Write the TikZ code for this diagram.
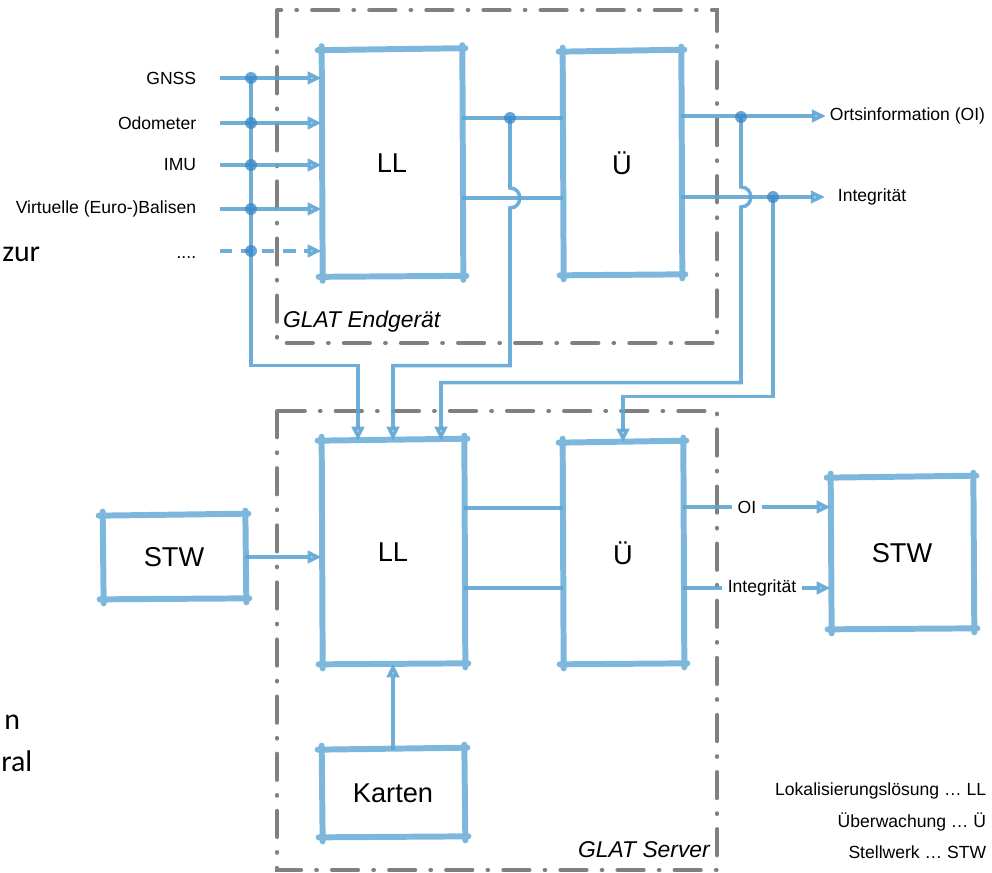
\documentclass[tikz,border=0pt]{standalone}
\usepackage{fontspec}
\setmainfont{Liberation Sans}
\newfontfamily\slidefont{Carlito}
\usepackage{tikz}
\usetikzlibrary{arrows.meta,calc,positioning}

\definecolor{boxblue}{RGB}{125,184,220}
\definecolor{lineblue}{RGB}{95,165,212}
\definecolor{dotblue}{RGB}{55,135,200}
\definecolor{framegray}{RGB}{128,128,128}

\tikzset{
  block/.style={inner sep=0pt, font=\fontsize{15.5}{18}\selectfont},
  sketch/.style={draw=boxblue, line width=3.4pt, line cap=round},
  conn/.style={draw=lineblue, line width=2pt, opacity=0.9},
  frame/.style={draw=framegray, line width=2.2pt, line cap=round,
    dash pattern=on 15pt off 8.5pt on 0.5pt off 8.5pt},
  lbl/.style={font=\fontsize{10}{12}\selectfont, inner sep=2pt},
  dot/.style={fill=dotblue, opacity=0.75},
  frag/.style={font=\slidefont\fontsize{17}{20}\selectfont, anchor=base west, inner sep=0pt}
}

% hand drawn look: four sides running a little past the corners
\newcommand\sketchbox[1]{%
  \draw[sketch] ($(#1.north west)+(-4,0)$) -- ($(#1.north east)+(3,-2)$);
  \draw[sketch] ($(#1.north east)+(0,-5)$) -- ($(#1.south east)+(1,4)$);
  \draw[sketch] ($(#1.south east)+(4,0)$) -- ($(#1.south west)+(-3,1)$);
  \draw[sketch] ($(#1.south west)+(1,5)$) -- ($(#1.north west)+(0,-4)$);
}

\begin{document}
\begin{tikzpicture}[x=0.02cm, y=-0.02cm,
    >={Triangle[length=8pt, width=7pt, fill=lineblue!30]}]
    % 1. Page area and the two dash-dotted frames
    \useasboundingbox (0,0) rectangle (992,873);
    \draw[frame] (277,10) rectangle (717,343);
    \draw[frame] (277,411) rectangle (717,870);
    \node[font=\itshape\fontsize{13}{15}\selectfont, anchor=west] (endgeraet) at (277,322) {GLAT Endgerät};
    \node[font=\itshape\fontsize{13}{15}\selectfont, anchor=east] (server) at (716,850) {GLAT Server};

    % 2. The blocks
    \node[block, minimum width=2.8cm, minimum height=4.5cm] (ll1) at (392,163) {LL};
    \node[block, minimum width=2.36cm, minimum height=4.44cm] (ue1) at (622,163) {Ü};
    \node[block, minimum width=2.84cm, minimum height=4.44cm] (ll2) at (393,552) {LL};
    \node[block, minimum width=2.4cm, minimum height=4.4cm] (ue2) at (623,553) {Ü};
    \node[block, minimum width=2.84cm, minimum height=1.64cm] (stwL) at (174,557) {STW};
    \node[block, minimum width=2.84cm, minimum height=3cm] (stwR) at (902,553) {STW};
    \node[block, minimum width=2.84cm, minimum height=1.72cm] (karten) at (393,793) {Karten};
    \foreach \b in {ll1,ue1,ll2,ue2,stwL,stwR,karten} {\sketchbox{\b}}

    % 3. Sensor inputs into the LL of the Endgeraet
    \foreach \name/\txt/\y in {gnss/GNSS/78, odo/Odometer/123, imu/IMU/165, bal/Virtuelle (Euro-)Balisen/209} {
      \node[lbl, anchor=east] (\name) at (200,\y) {\txt};
      \draw[conn,->] ($(\name.east)+(20,0)$) -- (\name -| ll1.west);
      \coordinate (\name dot) at ($(\name.east)+(51,0)$);
    }
    \node[lbl, anchor=east] (more) at (200,258) {....};
    \coordinate (morein) at (220,251);
    \coordinate (moredot) at (251,251);
    \draw[conn, dash pattern=on 7pt off 5pt, ->] (morein) -- (morein -| ll1.west);

    % 4. Lines between LL and Ü, and the outputs
    \coordinate (j1) at (510,118);
    \coordinate (j2) at (510,198);
    \draw[conn] (ll1.east |- j1) -- (ue1.west |- j1);
    \draw[conn] (ll1.east |- j2) -- (ue1.west |- j2);
    \node[lbl, anchor=west] (oi1) at (826,116) {Ortsinformation (OI)};
    \node[lbl, anchor=west] (int1) at (834,197) {Integrität};
    \draw[conn,->] (ue1.east |- oi1) -- (oi1.west);
    \draw[conn,->] (ue1.east |- int1) -- ($(int1.west)+(-9,0)$);
    \coordinate (jo) at (741,117);
    \coordinate (ji) at (773,197);

    % 5. Copies down to the server
    \draw[conn,->] (gnssdot) |- ($(ll2.north)+(-35,-75)$) -- ($(ll2.north)+(-35,0)$);
    \draw[conn,->] (j1) -- (510,188) .. controls (523,188) and (523,208) .. (510,208)
      |- ($(ll2.north)+(0,-75)$) -- (ll2.north);
    \draw[conn,->] (jo) -- (741,187) .. controls (754,187) and (754,207) .. (741,207)
      |- ($(ll2.north)+(48,-58)$) -- ($(ll2.north)+(48,0)$);
    \draw[conn,->] (ji) |- ($(ue2.north)+(0,-46)$) -- (ue2.north);
    \foreach \p in {gnssdot,ododot,imudot,baldot,moredot,j1,jo,ji}
      \fill[dot] (\p) circle (3.4pt);

    % 6. Server side
    \coordinate (m1) at (513,508);
    \coordinate (m2) at (513,588);
    \draw[conn] (ll2.east |- m1) -- (ue2.west |- m1);
    \draw[conn] (ll2.east |- m2) -- (ue2.west |- m2);
    \draw[conn,->] (stwL.east) -- (stwL.east -| ll2.west);
    \draw[conn,->] (karten.north) -- (ll2.south);
    \node[lbl, inner sep=3pt] (oi2) at (747,507) {OI};
    \node[lbl, inner sep=3pt] (int2) at (762,588) {Integrität};
    \draw[conn] (ue2.east |- oi2) -- (oi2.west);
    \draw[conn,->] (oi2.east) -- (stwR.west |- oi2);
    \draw[conn] (ue2.east |- int2) -- (int2.west);
    \draw[conn,->] (int2.east) -- (stwR.west |- int2);

    % 7. Legend
    \node[lbl, anchor=east] (leg1) at (990,791) {Lokalisierungslösung … LL};
    \node[lbl, anchor=east] (leg2) at (990,822) {Überwachung … Ü};
    \node[lbl, anchor=east] (leg3) at (990,852) {Stellwerk … STW};

    % 8. Slide text at the left edge
    \node[frag] (frag1) at (2,261) {zur};
    \node[frag] (frag2) at (4,729) {n};
    \node[frag] (frag3) at (1,771) {ral};
\end{tikzpicture}
\end{document}
